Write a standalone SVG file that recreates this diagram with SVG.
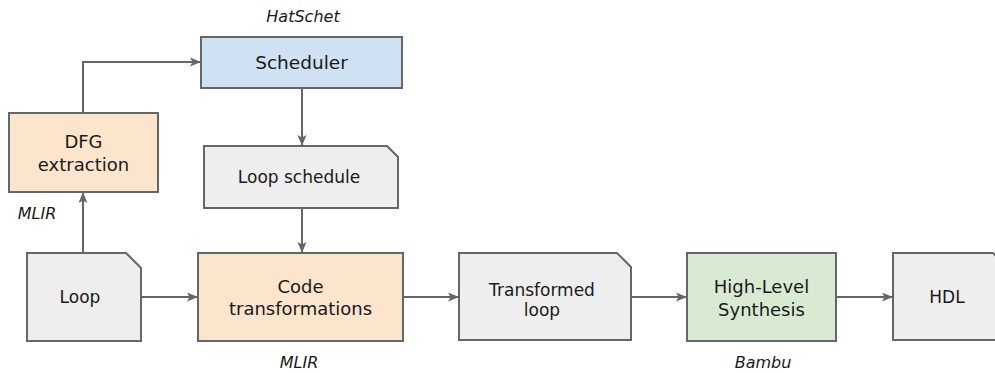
<svg xmlns="http://www.w3.org/2000/svg" width="995" height="373" viewBox="0 0 995 373">
  <defs>
    <style>
      .box { stroke: #666666; stroke-width: 2; }
      .doc { fill: #eeeeee; }
      .blue { fill: #cfe2f3; }
      .orange { fill: #fce5cd; }
      .green { fill: #d9ead3; }
      .lbl { font-family: "DejaVu Sans", "Liberation Sans", sans-serif; font-size: 18px; fill: #1a1a1a; text-anchor: middle; }
      .lbl.sm { font-size: 17px; }
      .tool { font-family: "DejaVu Sans", "Liberation Sans", sans-serif; font-size: 16px; font-style: italic; fill: #1a1a1a; text-anchor: middle; }
      .edge { fill: none; stroke: #666666; stroke-width: 2; }
    </style>
    <marker id="arrow" markerUnits="userSpaceOnUse" markerWidth="12" markerHeight="10" refX="10" refY="4.5" orient="auto">
      <path d="M0,0 L11,4.5 L0,9 L2.5,4.5 z" fill="#666666"/>
    </marker>
  </defs>

  <rect width="995" height="373" fill="#ffffff"/>

  <!-- connectors -->
  <g id="connectors">
    <path class="edge" d="M83,113 V62 H200" marker-end="url(#arrow)"/>
    <path class="edge" d="M302,88 V145" marker-end="url(#arrow)"/>
    <path class="edge" d="M302,208 V252" marker-end="url(#arrow)"/>
    <path class="edge" d="M83,253 V193" marker-end="url(#arrow)"/>
    <path class="edge" d="M141,297 H197" marker-end="url(#arrow)"/>
    <path class="edge" d="M403,297 H458" marker-end="url(#arrow)"/>
    <path class="edge" d="M631,297 H686" marker-end="url(#arrow)"/>
    <path class="edge" d="M836,297 H892" marker-end="url(#arrow)"/>
  </g>

  <!-- tool annotations -->
  <text class="tool" x="303" y="22">HatSchet</text>
  <text class="tool" x="37" y="219">MLIR</text>
  <text class="tool" x="299" y="368">MLIR</text>
  <text class="tool" x="763" y="368">Bambu</text>

  <g id="scheduler">
    <rect class="box blue" x="201" y="37" width="201" height="51"/>
    <text class="lbl" x="301.5" y="69" style="font-size:18.5px">Scheduler</text>
  </g>

  <g id="dfg-extraction">
    <rect class="box orange" x="9" y="113" width="149" height="79"/>
    <text class="lbl" x="83.5" y="148">DFG</text>
    <text class="lbl" x="83.5" y="171">extraction</text>
  </g>

  <g id="loop-schedule">
    <path class="box doc" d="M204,146 H387 L398,157 V208 H204 Z"/>
    <text class="lbl sm" x="299" y="183">Loop schedule</text>
  </g>

  <g id="loop">
    <path class="box doc" d="M27,253 H126 L141,268 V341 H27 Z"/>
    <text class="lbl sm" x="80" y="303">Loop</text>
  </g>

  <g id="code-transformations">
    <rect class="box orange" x="198" y="253" width="205" height="88"/>
    <text class="lbl" x="300.5" y="293">Code</text>
    <text class="lbl" x="300.5" y="315">transformations</text>
  </g>

  <g id="transformed-loop">
    <path class="box doc" d="M459,253 H617 L631,267 V340 H459 Z"/>
    <text class="lbl sm" x="542" y="296">Transformed</text>
    <text class="lbl sm" x="542" y="316">loop</text>
  </g>

  <g id="high-level-synthesis">
    <rect class="box green" x="687" y="253" width="149" height="88"/>
    <text class="lbl" x="761.5" y="293">High-Level</text>
    <text class="lbl" x="761.5" y="316">Synthesis</text>
  </g>

  <g id="hdl">
    <path class="box doc" d="M893,253 H993 L1007,267 V340 H893 Z"/>
    <text class="lbl sm" x="947" y="303">HDL</text>
  </g>
</svg>
